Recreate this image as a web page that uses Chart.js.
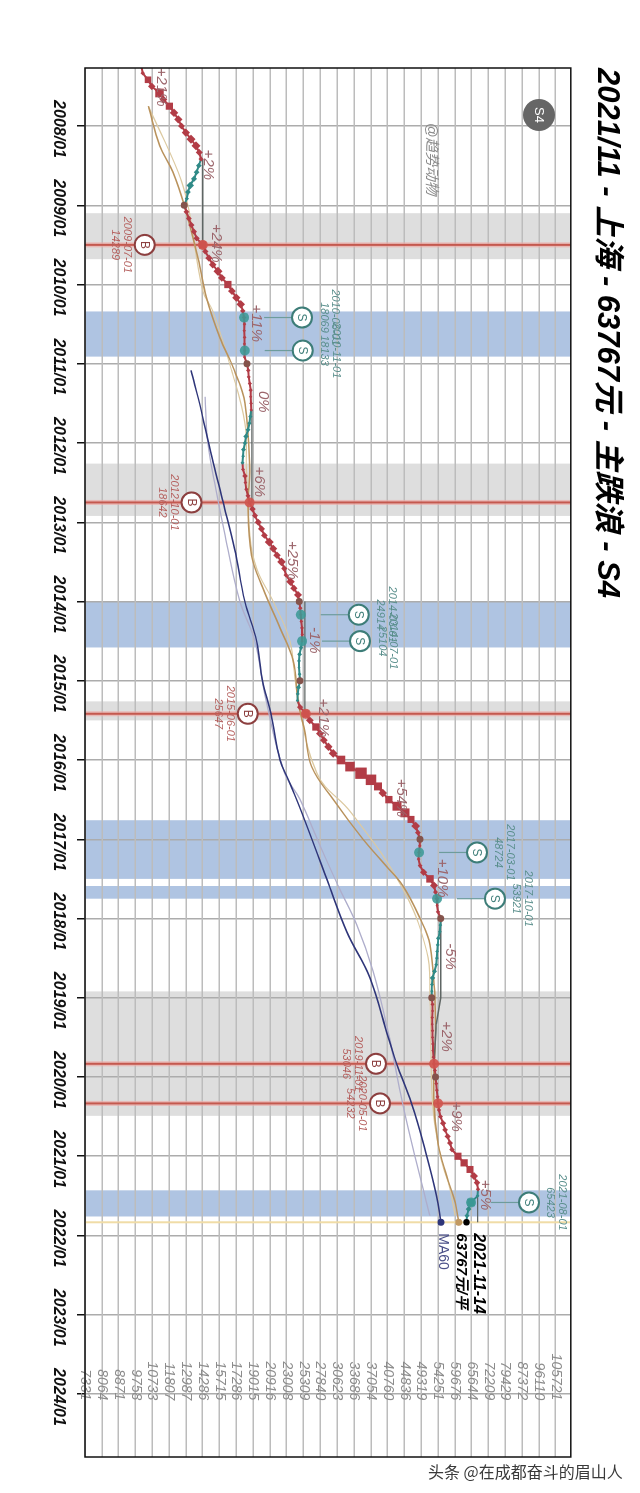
<!DOCTYPE html>
<html>
<head>
<meta charset="utf-8">
<title>2021/11 - 上海 - 63767元 - 主跌浪 - S4</title>
<script src="https://cdn.jsdelivr.net/npm/chart.js@4/dist/chart.umd.min.js"></script>
<style>
  html, body { margin: 0; width: 640px; height: 1493px; overflow: hidden; background: #fff; }
  /* the whole chart is a landscape plot turned a quarter clockwise */
  #chart { position: absolute; left: 0; top: 0; transform-origin: 0 0; transform: translateX(640px) rotate(90deg); }
  #credit { position: absolute; left: 428px; top: 1459px; font: 16px "Noto Sans CJK SC", sans-serif; color: #3a3a3a; white-space: nowrap; }
</style>
</head>
<body>
<canvas id="chart" width="1493" height="640"></canvas>
<div id="credit">头条 @在成都奋斗的眉山人</div>
<script>
const titleText = "2021/11 - 上海 - 63767元 - 主跌浪 - S4";
const yearTicks = [2008, 2009, 2010, 2011, 2012, 2013, 2014, 2015, 2016, 2017, 2018, 2019, 2020, 2021, 2022, 2023, 2024];
const priceTicks = [7331, 8064, 8871, 9758, 10733, 11807, 12987, 14286, 15715, 17286, 19015, 20916, 23008, 25309, 27840,
  30623, 33686, 37054, 40760, 44836, 49319, 54251, 59676, 65644, 72209, 79429, 87372, 96110, 105721];

const priceMonths = [
  "2007-04", "2007-05", "2007-06", "2007-07", "2007-08", "2007-09", "2007-10", "2007-11", "2007-12",
  "2008-01", "2008-02", "2008-03", "2008-04", "2008-05", "2008-06", "2008-07", "2008-08", "2008-09", "2008-10", "2008-11", "2008-12",
  "2009-01", "2009-02", "2009-03", "2009-04", "2009-05", "2009-06", "2009-07", "2009-08", "2009-09", "2009-10", "2009-11", "2009-12",
  "2010-01", "2010-02", "2010-03", "2010-04", "2010-05", "2010-06", "2010-07", "2010-08", "2010-09", "2010-10", "2010-11", "2010-12",
  "2011-01", "2011-02", "2011-03", "2011-04", "2011-05", "2011-06", "2011-07", "2011-08", "2011-09", "2011-10", "2011-11", "2011-12",
  "2012-01", "2012-02", "2012-03", "2012-04", "2012-05", "2012-06", "2012-07", "2012-08", "2012-09", "2012-10", "2012-11", "2012-12",
  "2013-01", "2013-02", "2013-03", "2013-04", "2013-05", "2013-06", "2013-07", "2013-08", "2013-09", "2013-10", "2013-11", "2013-12",
  "2014-01", "2014-02", "2014-03", "2014-04", "2014-05", "2014-06", "2014-07", "2014-08", "2014-09", "2014-10", "2014-11", "2014-12",
  "2015-01", "2015-02", "2015-03", "2015-04", "2015-05", "2015-06", "2015-07", "2015-08", "2015-09", "2015-10", "2015-11", "2015-12",
  "2016-01", "2016-02", "2016-03", "2016-04", "2016-05", "2016-06", "2016-07", "2016-08", "2016-09", "2016-10", "2016-11", "2016-12",
  "2017-01", "2017-02", "2017-03", "2017-04", "2017-05", "2017-06", "2017-07", "2017-08", "2017-09", "2017-10", "2017-11", "2017-12",
  "2018-01", "2018-02", "2018-03", "2018-04", "2018-05", "2018-06", "2018-07", "2018-08", "2018-09", "2018-10", "2018-11", "2018-12",
  "2019-01", "2019-02", "2019-03", "2019-04", "2019-05", "2019-06", "2019-07", "2019-08", "2019-09", "2019-10", "2019-11", "2019-12",
  "2020-01", "2020-02", "2020-03", "2020-04", "2020-05", "2020-06", "2020-07", "2020-08", "2020-09", "2020-10", "2020-11", "2020-12",
  "2021-01", "2021-02", "2021-03", "2021-04", "2021-05", "2021-06", "2021-07", "2021-08", "2021-09", "2021-10", "2021-11"
];
const priceValues = [
  10100, 10167, 10478, 10700, 11186, 11440, 11830, 12140, 12445,
  12666, 12987, 13366, 13750, 14010, 14150, 13980, 13800, 13600, 13310, 13140, 13060,
  12870, 13030, 13210, 13400, 13600, 13800, 14289, 14506, 14800, 15130, 15580, 15925,
  16490, 16865, 17286, 17735, 17940, 18069, 18100, 18080, 18120, 18100, 18133, 18120,
  18366, 18490, 18560, 18660, 18750, 18750, 18800, 18820, 18720, 18620, 18470, 18270,
  18160, 18010, 17960, 17900, 17960, 18160, 18200, 18300, 18470, 18642, 18950, 19215,
  19570, 19940, 20270, 20840, 21330, 21770, 22340, 22700, 22900, 23500, 23970, 24525,
  24700, 24850, 24914, 25000, 25100, 25120, 25104, 24950, 24745, 24670, 24670, 24745,
  24823, 24600, 24500, 24460, 24820, 25647, 26225, 27160, 27790, 28400, 29140, 29950,
  31300, 32930, 35060, 37100, 38600, 39640, 41070, 42990, 45000, 46530, 47800, 48420,
  49000, 48900, 48724, 48600, 49000, 49980, 51820, 53020, 53500, 53921, 53950, 54251,
  55090, 54950, 54800, 54360, 54150, 54000, 53900, 53700, 53200, 52590, 52430, 52380,
  52340, 52590, 52590, 52500, 52500, 52590, 52590, 52700, 52700, 52900, 53046, 53300,
  53500, 53700, 53900, 54100, 54232, 54560, 55020, 55830, 56480, 57290, 58060, 58730,
  60770, 62890, 65000, 66520, 67680, 68070, 67900, 65423, 64530, 63960, 63767
];
const fallStarts = ["2008-06", "2011-08", "2014-07", "2018-01", "2021-06"];
const fallEnds = ["2009-01", "2012-04", "2015-04", "2019-01", "2021-11"];
const yearDots = ["2009-01", "2011-01", "2014-01", "2015-01", "2017-01", "2018-01", "2019-01", "2020-01"];

const ma60Months = ["2011-02", "2011-08", "2012-04", "2012-10", "2013-05", "2014-01", "2014-07", "2015-01", "2015-06", "2016-01", "2016-04", "2016-09", "2017-07", "2018-03", "2018-10", "2019-07", "2019-11", "2020-05", "2021-01", "2021-07", "2021-11"];
const ma60Values = [13370, 14160, 15170, 16050, 17110, 18150, 19400, 20050, 21050, 22150, 23230, 25070, 28870, 32330, 36880, 40920, 42900, 46690, 50900, 53800, 55180];
const slowMonths = ["2011-06", "2012-01", "2012-08", "2013-03", "2014-01", "2014-07", "2015-04", "2016-03", "2016-07", "2017-02", "2017-08", "2018-02", "2018-09", "2019-06", "2020-05", "2021-01", "2021-10"];
const slowValues = [14480, 14720, 15390, 16220, 17640, 19210, 20460, 22750, 24820, 27800, 30770, 34250, 37570, 40840, 44390, 47610, 51820];
const ma20Months = ["2007-10", "2008-04", "2008-08", "2009-01", "2009-09", "2010-03", "2010-09", "2011-02", "2011-07", "2012-05", "2012-10", "2013-06", "2013-11", "2014-05", "2014-10", "2015-04", "2015-09", "2016-02", "2016-07", "2017-01", "2017-05", "2017-08", "2018-01", "2018-05", "2019-01", "2019-06", "2020-04", "2020-11", "2021-04", "2021-08", "2021-11"];
const ma20Values = [10500, 11200, 12070, 12870, 13920, 14600, 15740, 17100, 18150, 18660, 18470, 18840, 20110, 22150, 23880, 24520, 25550, 26490, 29960, 35460, 40370, 44390, 49000, 51820, 53300, 53500, 52950, 54251, 57000, 59800, 61000];
const ma12Months = ["2007-10", "2008-08", "2009-01", "2010-02", "2010-05", "2011-02", "2011-10", "2012-05", "2013-03", "2013-08", "2014-01", "2014-07", "2015-02", "2016-03", "2016-09", "2017-08", "2018-06", "2019-01", "2020-05", "2021-01", "2021-06", "2021-10"];
const ma12Values = [10500, 12440, 13140, 14300, 15130, 16830, 18150, 18310, 18660, 19400, 21310, 23440, 24290, 27290, 33170, 44000, 50900, 51820, 52590, 55000, 58060, 59800];

const buyMonths = ["2009-07", "2012-10", "2015-06", "2019-11", "2020-05"];
const buyPrices = [14289, 18642, 25647, 53046, 54232];
const sellMonths = ["2010-06", "2010-11", "2014-03", "2014-07", "2017-03", "2017-10", "2021-08"];
const sellPrices = [18069, 18133, 24914, 25104, 48724, 53921, 65423];
const grayZoneStarts = [2009.10, 2012.26, 2015.26, 2018.92];
const grayZoneEnds = [2009.68, 2012.92, 2015.50, 2020.49];
const blueZoneStarts = [2010.34, 2014.00, 2016.76, 2017.59, 2021.43];
const blueZoneEnds = [2010.91, 2014.58, 2017.50, 2017.75, 2021.76];

const legMonths = [["2008-06", "2009-07"], ["2011-08", "2012-10"], ["2014-01", "2015-06"], ["2018-01", "2019-01", "2019-05", "2019-11"], ["2021-07", "2021-11"]];
const legPrices = [[14289, 14289], [18880, 18880], [25500, 25500], [55090, 55090, 53700, 53046], [67900, 67900]];

const waveLabels = ["+21%", "+2%", "+24%", "+11%", "0%", "+6%", "+25%", "-1%", "+21%", "+54%", "+10%", "-5%", "+2%", "+9%", "+5%"];
const waveYears = [2007.51, 2008.49, 2009.48, 2010.49, 2011.48, 2012.49, 2013.48, 2014.49, 2015.47, 2016.48, 2017.49, 2018.48, 2019.49, 2020.50, 2021.49];
const wavePrices = [11267, 14720, 15380, 19400, 20110, 19660, 23790, 26850, 28240, 43910, 55400, 58060, 56750, 60300, 70820];

const nowMonth = "2021-11";
const nowPrice = 63767;
const nowDate = "2021-11-14";
const nowLabel = "63767元/平";

const FONT = '"Liberation Sans", "Noto Sans CJK SC", sans-serif';
const RED = "#b23c46";
const TEAL = "#2f8a87";

const toYear = (m) => {
  const [y, mo] = m.split("-").map(Number);
  return y + (mo - 1) / 12;
};
const toPoints = (months, values) => months.map((m, i) => ({ x: toYear(m), y: values[i] }));
const priceAt = (m) => priceValues[priceMonths.indexOf(m)];

const isFalling = (i) => fallStarts.some((start, k) => {
  const a = priceMonths.indexOf(start);
  const b = priceMonths.indexOf(fallEnds[k]);
  return i > a && i <= b;
});
// monthly move decides how heavy the marker is
const moveOf = (i) => (i === 0 ? 0.01 : Math.abs(priceValues[i] / priceValues[i - 1] - 1));

const yMin = priceTicks[0];
const yMax = 115180;

const fullHeight = (x) => [{ x, y: yMin }, { x, y: yMax }];
const lineSet = (label, data, color, width, order, extra) => ({
  label, data, showLine: true, borderColor: color, borderWidth: width, pointRadius: 0, order, ...extra,
});
const dotSet = (label, data, color, radius, order) => ({
  label, data, showLine: false, pointRadius: radius, backgroundColor: color, borderColor: color, borderWidth: 0, order,
});

const datasets = [
  ...buyMonths.map((m) => lineSet("buy halo", fullHeight(toYear(m)), "rgba(236,170,165,0.7)", 5, 20)),
  ...buyMonths.map((m) => lineSet("buy", fullHeight(toYear(m)), "#c4594f", 2, 19)),
  lineSet("now", fullHeight(toYear(nowMonth)), "#f0dca6", 2, 18),
  lineSet("MA slow", toPoints(slowMonths, slowValues), "#aeadcb", 1.3, 12, { tension: 0.4 }),
  lineSet("MA60", toPoints(ma60Months, ma60Values), "#2e3579", 1.5, 11, { tension: 0.4 }),
  lineSet("MA12", toPoints(ma12Months, ma12Values), "#dcc9a0", 1.2, 10, { tension: 0.4 }),
  lineSet("MA20", toPoints(ma20Months, ma20Values), "#b9925c", 1.5, 9, { tension: 0.4 }),
  ...legMonths.map((months, i) => lineSet("leg", toPoints(months, legPrices[i]), "#5f6664", 1.4, 8)),
  {
    label: "price",
    data: toPoints(priceMonths, priceValues),
    showLine: true,
    borderWidth: 2,
    borderColor: RED,
    segment: { borderColor: (ctx) => (isFalling(ctx.p1DataIndex) ? TEAL : RED) },
    pointStyle: (ctx) => (moveOf(ctx.dataIndex) > 0.03 ? "rect" : "rectRot"),
    pointRadius: (ctx) => Math.min(8, 1.6 + moveOf(ctx.dataIndex) * 100),
    pointBackgroundColor: (ctx) => (isFalling(ctx.dataIndex) ? TEAL : RED),
    pointBorderWidth: 0,
    order: 5,
  },
  dotSet("year", yearDots.map((m) => ({ x: toYear(m), y: priceAt(m) })), "#84534b", 3.5, 4),
  dotSet("buy point", toPoints(buyMonths, buyPrices), "rgba(208,84,78,0.9)", 5, 3),
  dotSet("sell point", toPoints(sellMonths, sellPrices), "rgba(60,154,150,0.88)", 5, 3),
  dotSet("MA60 end", [{ x: toYear(nowMonth), y: ma60Values[ma60Values.length - 1] }], "#2e3579", 3.5, 2),
  dotSet("MA20 end", [{ x: toYear(nowMonth), y: ma20Values[ma20Values.length - 1] }], "#c29a63", 3.5, 2),
  dotSet("now point", [{ x: toYear(nowMonth), y: nowPrice }], "#000", 3.2, 2),
];

const zonesPlugin = {
  id: "zones",
  beforeDraw(chart) {
    const { ctx, chartArea: a, scales: { x } } = chart;
    const fillZones = (starts, ends, color) => {
      ctx.fillStyle = color;
      starts.forEach((s, i) => {
        const x0 = x.getPixelForValue(s);
        ctx.fillRect(x0, a.top, x.getPixelForValue(ends[i]) - x0, a.height);
      });
    };
    fillZones(grayZoneStarts, grayZoneEnds, "#dedede");
    fillZones(blueZoneStarts, blueZoneEnds, "#afc4e2");
  },
};

const calloutsPlugin = {
  id: "callouts",
  afterDatasetsDraw(chart) {
    const { ctx, chartArea: a, scales: { x, y } } = chart;
    ctx.save();
    ctx.textAlign = "center";
    ctx.textBaseline = "middle";

    // percent of each wave
    ctx.font = `italic 15px ${FONT}`;
    ctx.fillStyle = "#9c666c";
    waveLabels.forEach((t, i) => ctx.fillText(t, x.getPixelForValue(waveYears[i]), y.getPixelForValue(wavePrices[i])));

    const callout = (letter, month, price, side, ring, leader, textColor) => {
      const px = x.getPixelForValue(toYear(month));
      const py = y.getPixelForValue(price);
      const cy = py + side * 58;
      ctx.strokeStyle = leader;
      ctx.lineWidth = 1.2;
      if (letter === "S") {
        ctx.beginPath();
        ctx.moveTo(px, py - 20);
        ctx.lineTo(px, cy);
        ctx.stroke();
      }
      ctx.beginPath();
      ctx.arc(px, cy, 10, 0, Math.PI * 2);
      ctx.fillStyle = "#fff";
      ctx.fill();
      ctx.lineWidth = 2;
      ctx.strokeStyle = ring;
      ctx.stroke();
      ctx.fillStyle = ring;
      ctx.font = `12px ${FONT}`;
      ctx.fillText(letter, px, cy + 0.5);
      ctx.fillStyle = textColor;
      ctx.font = `italic 11px ${FONT}`;
      const dateY = side > 0 ? cy + 18 : cy - 33;
      ctx.fillText(`${month}-01`, px, dateY);
      ctx.fillText(String(price), px, dateY + 11.5);
    };
    buyMonths.forEach((m, i) => callout("B", m, buyPrices[i], 1, "#8c3f3f", "#8c3f3f", "#b5615f"));
    sellMonths.forEach((m, i) => callout("S", m, sellPrices[i], -1, "#3d7d78", "#6d9c9c", "#5a8f8c"));

    // end of the series
    const nowX = x.getPixelForValue(toYear(nowMonth));
    const nowY = y.getPixelForValue(nowPrice);
    ctx.textAlign = "left";
    ctx.fillStyle = "#000";
    ctx.font = `italic bold 16px ${FONT}`;
    ctx.fillText(nowDate, nowX + 11, nowY - 12);
    ctx.font = `italic bold 15px ${FONT}`;
    ctx.fillText(nowLabel, nowX + 11, nowY + 5);
    ctx.fillStyle = "#4b5089";
    ctx.font = `14px ${FONT}`;
    ctx.fillText("MA60", nowX + 11, y.getPixelForValue(ma60Values[ma60Values.length - 1]) - 2);

    // badge and handle
    ctx.textAlign = "center";
    ctx.beginPath();
    ctx.arc(115, 101, 16, 0, Math.PI * 2);
    ctx.fillStyle = "#666";
    ctx.fill();
    ctx.fillStyle = "#fff";
    ctx.font = `13px ${FONT}`;
    ctx.fillText("S4", 115, 101.5);
    ctx.fillStyle = "#8a8a8a";
    ctx.font = `italic 14.5px ${FONT}`;
    ctx.fillText("@趋势动物", 159, 209);

    ctx.strokeStyle = "#111";
    ctx.lineWidth = 1.5;
    ctx.strokeRect(a.left, a.top, a.width, a.height);
    ctx.restore();
  },
};

new Chart(document.getElementById("chart"), {
  type: "scatter",
  data: { datasets },
  plugins: [zonesPlugin, calloutsPlugin],
  options: {
    responsive: false,
    animation: false,
    layout: { padding: { left: 68, right: 36, top: 0, bottom: 0 } },
    plugins: {
      legend: { display: false },
      tooltip: { enabled: false },
      title: {
        display: true,
        text: titleText,
        align: "start",
        color: "#000",
        font: { family: FONT, size: 31, weight: "bold", style: "italic" },
        padding: { top: 15, bottom: 17 },
      },
    },
    scales: {
      x: {
        type: "linear",
        min: 2007.268,
        max: 2024.795,
        afterBuildTicks(scale) { scale.ticks = yearTicks.map((value) => ({ value })); },
        afterFit(scale) { scale.height = 85; },
        grid: { color: "#acacac", lineWidth: 1.5, tickColor: "#111", tickLength: 8, tickWidth: 1.5 },
        border: { display: false },
        ticks: {
          autoSkip: false,
          maxRotation: 0,
          minRotation: 0,
          padding: 9,
          labelOffset: 3,
          color: "#111",
          font: { family: FONT, size: 16, weight: "bold", style: "italic" },
          callback: (v) => `${v}/01`,
        },
      },
      y: {
        type: "logarithmic",
        min: yMin,
        max: yMax,
        position: { x: 2024.08 },
        afterBuildTicks(scale) { scale.ticks = priceTicks.map((value) => ({ value })); },
        grid: { color: "#bcbcbc", lineWidth: 1.5, drawTicks: false },
        border: { display: false },
        ticks: {
          autoSkip: false,
          padding: 0,
          color: "#8c8c8c",
          font: { family: FONT, size: 14, style: "italic" },
          callback: (v) => String(v),
        },
      },
    },
  },
});
</script>
</body>
</html>
